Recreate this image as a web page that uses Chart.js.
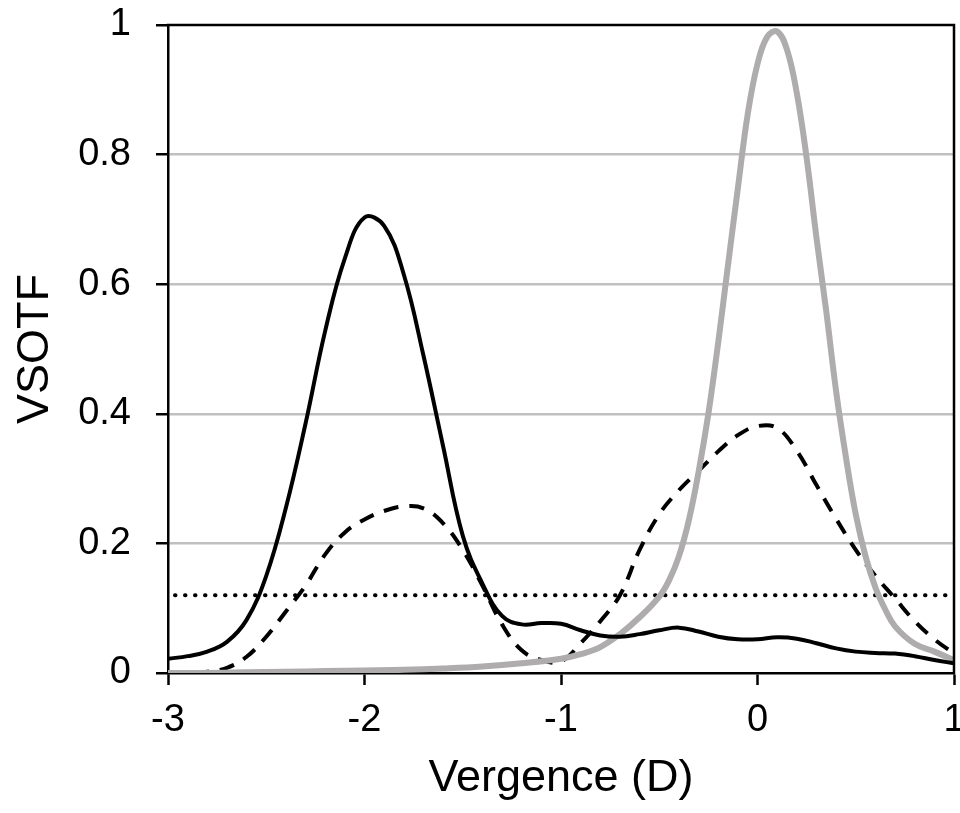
<!DOCTYPE html>
<html>
<head>
<meta charset="utf-8">
<script src="https://cdn.jsdelivr.net/npm/chart.js@4.4.1/dist/chart.umd.min.js"></script>
<style>
  html, body { margin: 0; padding: 0; background: #ffffff; }
  #wrap { width: 960px; height: 813px; }
</style>
</head>
<body>
<div id="wrap"><canvas id="c" width="960" height="813"></canvas></div>
<script>
// ---- data ----
const solidX = [-3.0,-2.9,-2.8,-2.7,-2.6,-2.5,-2.4,-2.3,-2.2,-2.1,-2.0,-1.9,-1.8,-1.7,-1.6,-1.5,-1.4,-1.3,-1.2,-1.1,-1.0,-0.9,-0.8,-0.7,-0.6,-0.5,-0.4,-0.3,-0.2,-0.1,0.0,0.1,0.2,0.3,0.4,0.5,0.6,0.7,0.8,0.9,1.0];
const solidY = [0.022,0.026,0.033,0.048,0.082,0.150,0.255,0.385,0.528,0.640,0.703,0.690,0.615,0.490,0.350,0.212,0.138,0.088,0.075,0.077,0.076,0.066,0.058,0.056,0.060,0.066,0.070,0.064,0.056,0.052,0.052,0.055,0.053,0.046,0.038,0.033,0.031,0.030,0.026,0.020,0.015];

const dashedX = [-3.0,-2.9,-2.8,-2.7,-2.6,-2.5,-2.4,-2.3,-2.2,-2.1,-2.0,-1.9,-1.8,-1.7,-1.6,-1.5,-1.4,-1.3,-1.2,-1.1,-1.0,-0.9,-0.8,-0.7,-0.6,-0.5,-0.4,-0.3,-0.2,-0.1,0.0,0.1,0.2,0.3,0.4,0.5,0.6,0.7,0.8,0.9,1.0];
const dashedY = [0.0,0.0,0.002,0.008,0.025,0.056,0.095,0.135,0.183,0.217,0.237,0.250,0.257,0.254,0.231,0.190,0.135,0.075,0.035,0.020,0.018,0.046,0.080,0.120,0.190,0.245,0.282,0.312,0.342,0.367,0.381,0.378,0.343,0.290,0.238,0.190,0.150,0.115,0.080,0.052,0.030];

const grayX = [-3.0,-2.8,-2.6,-2.4,-2.2,-2.0,-1.8,-1.6,-1.4,-1.2,-1.0,-0.9,-0.8,-0.7,-0.6,-0.5,-0.45,-0.4,-0.35,-0.3,-0.25,-0.2,-0.15,-0.1,-0.05,0.0,0.05,0.1,0.15,0.2,0.25,0.3,0.35,0.4,0.45,0.5,0.55,0.6,0.65,0.7,0.8,0.9,1.0];
const grayY = [0.0,0.0,0.001,0.002,0.003,0.004,0.005,0.007,0.010,0.015,0.022,0.029,0.040,0.060,0.086,0.118,0.143,0.180,0.235,0.310,0.400,0.510,0.630,0.748,0.862,0.940,0.982,0.990,0.962,0.895,0.795,0.672,0.558,0.435,0.333,0.245,0.180,0.132,0.098,0.072,0.045,0.033,0.020];

const thresholdX = [-3, 1];
const thresholdY = [0.12, 0.12];

const xTicks = [-3, -2, -1, 0, 1];
const xTickLabels = ['-3', '-2', '-1', '0', '1'];
const yTicks = [0, 0.2, 0.4, 0.6, 0.8, 1];
const yTickLabels = ['0', '0.2', '0.4', '0.6', '0.8', '1'];

const xTitle = 'Vergence (D)';
const yTitle = 'VSOTF';

// ---- build chart ----
function pts(xs, ys) { return xs.map((x, i) => ({ x: x, y: ys[i] })); }

const FONT = '"Liberation Sans", Arial, Helvetica, sans-serif';

const framePlugin = {
  id: 'frame',
  afterDatasetsDraw(chart) {
    const a = chart.chartArea, ctx = chart.ctx;
    ctx.save();
    ctx.strokeStyle = '#000';
    ctx.lineWidth = 2.5;
    ctx.beginPath();
    ctx.moveTo(a.left - 1.25, a.top);
    ctx.lineTo(a.right, a.top);
    ctx.lineTo(a.right, a.bottom + 1.25);
    ctx.stroke();
    ctx.restore();
  }
};

new Chart(document.getElementById('c'), {
  type: 'line',
  data: {
    datasets: [
      { label: 'solid', data: pts(solidX, solidY), borderColor: '#000000', borderWidth: 4,
        pointRadius: 0, tension: 0.4, fill: false, order: 0 },
      { label: 'gray', data: pts(grayX, grayY), borderColor: '#aeacac', borderWidth: 6,
        pointRadius: 0, tension: 0.4, fill: false, order: 1 },
      { label: 'dashed', data: pts(dashedX, dashedY), borderColor: '#000000', borderWidth: 4,
        borderDash: [15, 11], pointRadius: 0, tension: 0.4, fill: false, order: 2 },
      { label: 'threshold', data: pts(thresholdX, thresholdY), borderColor: '#000000', borderWidth: 4,
        borderDash: [0.5, 9.5], borderDashOffset: -7, borderCapStyle: 'round', pointRadius: 0, fill: false, order: 3 }
    ]
  },
  options: {
    responsive: false,
    animation: false,
    events: [],
    layout: { padding: { left: 0, right: 6, top: 25, bottom: 0 } },
    plugins: { legend: { display: false }, tooltip: { enabled: false } },
    scales: {
      x: {
        type: 'linear', position: 'bottom', min: -3, max: 1,
        afterBuildTicks: (s) => { s.ticks = xTicks.map(v => ({ value: v })); },
        afterFit: (s) => { s.height = 140; s.paddingLeft = 0; s.paddingRight = 0; },
        ticks: {
          autoSkip: false, maxRotation: 0, padding: 13, color: '#000',
          font: { family: FONT, size: 38 },
          callback: (v) => { const i = xTicks.indexOf(v); return i >= 0 ? xTickLabels[i] : ''; }
        },
        grid: { display: true, drawOnChartArea: false, drawTicks: true, tickLength: 12,
                tickColor: '#000', tickWidth: 2.5, color: '#000' },
        border: { display: true, color: '#000', width: 2.5 },
        title: { display: true, text: xTitle, color: '#000',
                 font: { family: FONT, size: 45 }, padding: { top: 0, bottom: 7 } }
      },
      y: {
        type: 'linear', position: 'left', min: 0, max: 1,
        afterBuildTicks: (s) => { s.ticks = yTicks.map(v => ({ value: v })); },
        afterFit: (s) => { s.width = 168; s.paddingTop = 0; s.paddingBottom = 0; },
        ticks: {
          autoSkip: false, padding: 25, color: '#000',
          font: { family: FONT, size: 38 },
          callback: (v) => { const i = yTicks.findIndex(t => Math.abs(t - v) < 1e-9); return i >= 0 ? yTickLabels[i] : ''; }
        },
        grid: {
          display: true, drawOnChartArea: true, drawTicks: true, tickLength: 12,
          tickColor: '#000', tickWidth: 2.5, lineWidth: 2.5,
          color: (c) => (c.tick && (Math.abs(c.tick.value) < 1e-9 || Math.abs(c.tick.value - 1) < 1e-9)) ? 'rgba(0,0,0,0)' : '#c0c0c0'
        },
        border: { display: true, color: '#000', width: 2.5 },
        title: { display: true, text: yTitle, color: '#000',
                 font: { family: FONT, size: 45 }, padding: { top: 9, bottom: 0 } }
      }
    }
  },
  plugins: [framePlugin]
});
</script>
</body>
</html>
